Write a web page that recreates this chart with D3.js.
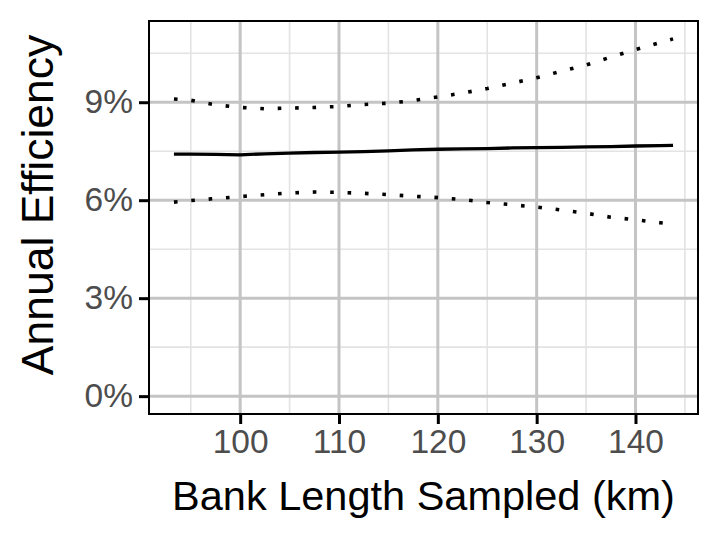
<!DOCTYPE html>
<html>
<head>
<meta charset="utf-8">
<script src="https://cdn.jsdelivr.net/npm/d3@7"></script>
<style>
  body { margin: 0; background: #fff; }
  svg { display: block; font-family: "Liberation Sans", Arial, sans-serif; }
</style>
</head>
<body>
<div id="chart"></div>
<script>
// data (km, % per year)
const bankLength = [93.3, 95, 97.5, 100, 102.5, 105, 107.5, 110, 112.5, 115, 117.5, 120,
                    122.5, 125, 127.5, 130, 132.5, 135, 137.5, 140, 142.5, 143.8];
const efficiency = [7.41, 7.41, 7.40, 7.39, 7.42, 7.44, 7.46, 7.47, 7.49, 7.51, 7.54, 7.56,
                    7.57, 7.58, 7.60, 7.61, 7.62, 7.63, 7.64, 7.66, 7.67, 7.68];
const upperBound = [9.10, 9.06, 8.92, 8.84, 8.80, 8.82, 8.84, 8.87, 8.93, 8.97, 9.05, 9.16,
                    9.28, 9.42, 9.58, 9.75, 9.95, 10.14, 10.38, 10.61, 10.83, 10.94];
const lowerBound = [5.94, 5.99, 6.05, 6.11, 6.17, 6.22, 6.25, 6.24, 6.21, 6.17, 6.12, 6.08,
                    6.02, 5.93, 5.86, 5.79, 5.70, 5.60, 5.48, 5.40, 5.31, 5.27];

const xTicks = [100, 110, 120, 130, 140];
const xMinor = [95, 105, 115, 125, 135, 145];
const yTicks = [0, 3, 6, 9];
const yMinor = [1.5, 4.5, 7.5, 10.5];

const width = 719, height = 540;
const margin = { top: 21, right: 21, bottom: 126, left: 149 };

const svg = d3.select("#chart").append("svg")
    .attr("width", width)
    .attr("height", height);

// ggplot style 5% expansion
const xExt = d3.extent(bankLength);
const xPad = (xExt[1] - xExt[0]) * 0.05;
const yMax = d3.max(upperBound);
const yPad = yMax * 0.05;

const x = d3.scaleLinear([xExt[0] - xPad, xExt[1] + xPad], [margin.left, width - margin.right]);
const y = d3.scaleLinear([-yPad, yMax + yPad], [height - margin.bottom, margin.top]);

const grid = svg.append("g");
grid.selectAll(".xminor").data(xMinor.filter(d => x(d) < width - margin.right)).join("line")
    .attr("x1", d => x(d)).attr("x2", d => x(d))
    .attr("y1", margin.top).attr("y2", height - margin.bottom)
    .attr("stroke", "#e3e3e3").attr("stroke-width", 1.6);
grid.selectAll(".yminor").data(yMinor).join("line")
    .attr("y1", d => y(d)).attr("y2", d => y(d))
    .attr("x1", margin.left).attr("x2", width - margin.right)
    .attr("stroke", "#e3e3e3").attr("stroke-width", 1.6);
grid.selectAll(".xmajor").data(xTicks).join("line")
    .attr("x1", d => x(d)).attr("x2", d => x(d))
    .attr("y1", margin.top).attr("y2", height - margin.bottom)
    .attr("stroke", "#c4c4c4").attr("stroke-width", 3);
grid.selectAll(".ymajor").data(yTicks).join("line")
    .attr("y1", d => y(d)).attr("y2", d => y(d))
    .attr("x1", margin.left).attr("x2", width - margin.right)
    .attr("stroke", "#c4c4c4").attr("stroke-width", 3);

const line = (vals) => d3.line()
    .x((d, i) => x(bankLength[i]))
    .y(d => y(d))(vals);

svg.append("path").attr("d", line(efficiency))
    .attr("fill", "none").attr("stroke", "#000").attr("stroke-width", 3.3);

for (const s of [upperBound, lowerBound]) {
    svg.append("path").attr("d", line(s))
        .attr("fill", "none").attr("stroke", "#000").attr("stroke-width", 3.6)
        .attr("stroke-dasharray", "3.6 13.8");
}

svg.append("rect")
    .attr("x", margin.left).attr("y", margin.top)
    .attr("width", width - margin.left - margin.right)
    .attr("height", height - margin.top - margin.bottom)
    .attr("fill", "none").attr("stroke", "#000").attr("stroke-width", 2);

const xAxis = svg.append("g")
    .attr("transform", `translate(0,${height - margin.bottom + 1})`)
    .call(d3.axisBottom(x).tickValues(xTicks).tickSize(9).tickPadding(5).tickSizeOuter(0));
const yAxis = svg.append("g")
    .attr("transform", `translate(${margin.left - 1},0)`)
    .call(d3.axisLeft(y).tickValues(yTicks).tickFormat(d => d + "%").tickSize(9).tickPadding(6).tickSizeOuter(0));

for (const a of [xAxis, yAxis]) {
    a.select(".domain").remove();
    a.selectAll(".tick line").attr("stroke", "#000").attr("stroke-width", 3);
    a.selectAll(".tick text")
        .attr("fill", "#4d4d4d")
        .style("font-size", "33.5px")
        .style("font-family", "'Liberation Sans', Arial, sans-serif");
}

svg.append("text")
    .attr("x", (margin.left + width - margin.right) / 2)
    .attr("y", 510)
    .attr("text-anchor", "middle")
    .style("font-size", "41.5px")
    .text("Bank Length Sampled (km)");

svg.append("text")
    .attr("transform", `translate(53,205) rotate(-90)`)
    .attr("text-anchor", "middle")
    .style("font-size", "44.5px")
    .text("Annual Efficiency");
</script>
</body>
</html>
